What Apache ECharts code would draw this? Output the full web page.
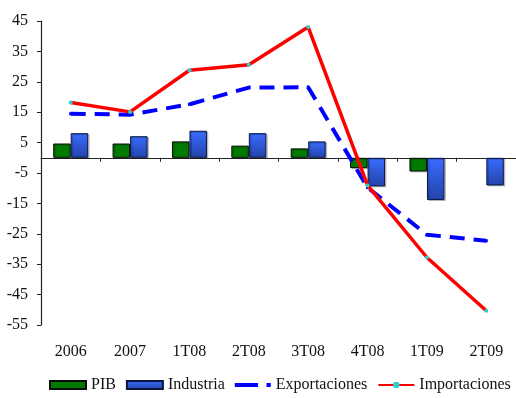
<!DOCTYPE html>
<html>
<head>
<meta charset="utf-8">
<script src="https://cdn.jsdelivr.net/npm/echarts@6/dist/echarts.min.js"></script>
<style>
  html, body { margin: 0; padding: 0; background: #fff; }
  #main { width: 516px; height: 398px; }
</style>
</head>
<body>
<div id="main"></div>
<script>
var categories = ['2006', '2007', '1T08', '2T08', '3T08', '4T08', '1T09', '2T09'];
var pib = [4.7, 4.7, 5.4, 4.0, 3.1, -3.4, -4.5, null];
var industria = [8.1, 7.1, 8.9, 8.1, 5.4, -9.4, -13.9, -9.1];
var exportaciones = [14.5, 14.2, 17.6, 23.1, 23.2, -9.8, -25.3, -27.3];
var importaciones = [18.2, 15.1, 28.8, 30.6, 43.0, -9.1, -32.8, -50.3];

var dom = document.getElementById('main');
var myChart = echarts.init(dom);
var font = 'Liberation Serif';

var option = {
    animation: false,
    textStyle: { fontFamily: font },
    grid: { left: 41, right: -1, top: 21, bottom: 73 },
    legend: {
        left: 44,
        bottom: 0,
        itemWidth: 36,
        itemHeight: 8,
        itemGap: 10,
        textStyle: { fontFamily: font, fontSize: 16, color: '#111' },
        data: [
            { name: 'PIB', icon: 'rect' },
            { name: 'Industria', icon: 'rect' },
            { name: 'Exportaciones', icon: 'path://M0,0H22V4H0Z M30,0H34V4H30Z' },
            { name: 'Importaciones' }
        ]
    },
    xAxis: [{
        type: 'category',
        data: categories,
        axisLine: { onZero: true, lineStyle: { color: '#222', width: 1.2 } },
        axisTick: { show: true, length: 4, lineStyle: { color: '#222' } },
        axisLabel: { show: false }
    }, {
        type: 'category',
        data: categories,
        position: 'bottom',
        axisLine: { show: false, onZero: false },
        axisTick: { show: false },
        axisLabel: { margin: 19, fontSize: 16, color: '#111', fontFamily: font }
    }],
    yAxis: {
        type: 'value',
        min: -55,
        max: 45,
        interval: 10,
        splitLine: { show: false },
        axisLine: { show: true, lineStyle: { color: '#222', width: 1.2 } },
        axisTick: { show: true, length: 4, lineStyle: { color: '#222' } },
        axisLabel: { fontSize: 16, color: '#111', margin: 13, fontFamily: font }
    },
    series: [{
        name: 'PIB',
        type: 'bar',
        data: pib,
        barWidth: 17.5,
        barGap: '0%',
        itemStyle: {
            color: '#007a00',
            borderColor: '#0a0a0a',
            borderWidth: 1,
            shadowColor: 'rgba(0,0,0,0.2)',
            shadowOffsetX: 1.5,
            shadowOffsetY: 1
        }
    }, {
        name: 'Industria',
        type: 'bar',
        data: industria,
        barWidth: 17.5,
        barGap: '0%',
        itemStyle: {
            color: new echarts.graphic.LinearGradient(0, 0, 0, 1, [
                { offset: 0, color: '#3a6cff' },
                { offset: 1, color: '#2243a8' }
            ]),
            borderColor: '#0a1640',
            borderWidth: 1,
            shadowColor: 'rgba(0,0,0,0.2)',
            shadowOffsetX: 1.5,
            shadowOffsetY: 1
        }
    }, {
        name: 'Exportaciones',
        type: 'line',
        data: exportaciones,
        z: 3,
        symbol: 'rect',
        symbolSize: 3,
        itemStyle: { color: '#0000ff' },
        lineStyle: { color: '#0000ff', width: 4, type: [15, 9] }
    }, {
        name: 'Importaciones',
        type: 'line',
        data: importaciones,
        z: 4,
        symbol: 'circle',
        symbolSize: 4,
        itemStyle: { color: '#33cccc', borderWidth: 0 },
        lineStyle: { color: '#ff0000', width: 3.5 }
    }]
};

if (option && typeof option === 'object') {
    myChart.setOption(option, true);
}
</script>
</body>
</html>
